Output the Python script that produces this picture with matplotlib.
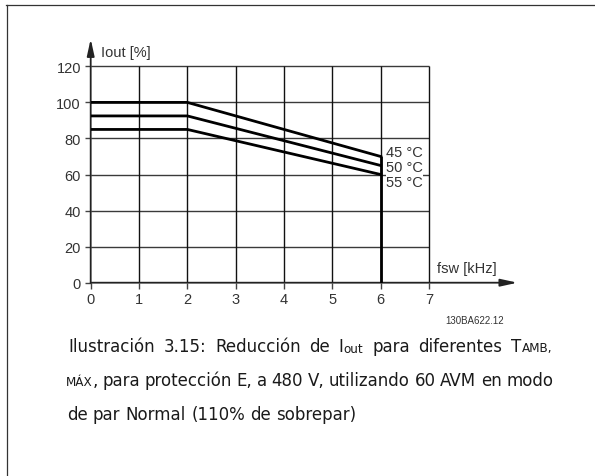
import matplotlib
matplotlib.use("Agg")
import matplotlib.pyplot as plt
from matplotlib.lines import Line2D

# derating curves
fsw_khz = [0, 2, 6]
iout_45 = [100, 100, 70]
iout_50 = [92.5, 92.5, 65]
iout_55 = [85, 85, 60]
temp_labels = ["45 °C", "50 °C", "55 °C"]

x_ticks = [0, 1, 2, 3, 4, 5, 6, 7]
y_ticks = [0, 20, 40, 60, 80, 100, 120]

W, H = 595, 477
fig = plt.figure(figsize=(W / 100, H / 100), dpi=100)
fig.patch.set_facecolor("white")

def fx(x):
    return x / W

def fy(y):
    return 1 - y / H

# axes: x=0 at px 90.7, 48.33 px per kHz; y=0 at px 283.7, 1.803 px per %
x0_px, y0_px = 90.7, 283.7
sx, sy = 48.33, 1.803
xmax, ymax = 8.9, 136.0
ax = fig.add_axes([fx(x0_px), fy(y0_px), xmax * sx / W, ymax * sy / H])
ax.set_xlim(0, xmax)
ax.set_ylim(0, ymax)
for s in ax.spines.values():
    s.set_visible(False)
ax.patch.set_visible(False)

txt_col = "#333333"
ax.set_xticks(x_ticks)
ax.set_yticks(y_ticks)
ax.tick_params(direction="out", length=4, width=1.0, color="#444444",
               labelsize=10.5, labelcolor=txt_col, pad=3)
for lab in ax.get_xticklabels() + ax.get_yticklabels():
    lab.set_family("Liberation Sans")

# grid limited to the 0..7 / 0..120 box
ax.hlines(y_ticks[1:], 0, x_ticks[-1], color="#3a3a3a", lw=1.0, zorder=1)
ax.vlines(x_ticks[1:], 0, y_ticks[-1], color="#111111", lw=1.0, zorder=1)

# axis arrows
for tip in [(0, 135.2), (8.83, 0)]:
    ax.annotate("", xy=tip, xytext=(0, 0),
                arrowprops=dict(arrowstyle="-|>,head_length=1.0,head_width=0.22",
                                lw=1.3, color="#222222", mutation_scale=10,
                                shrinkA=0, shrinkB=0),
                annotation_clip=False)

# curves
for ys in (iout_45, iout_50, iout_55):
    ax.plot(fsw_khz, ys, color="black", lw=2.0, solid_joinstyle="miter", zorder=3)
ax.vlines(fsw_khz[-1], 0, iout_45[-1], color="black", lw=2.0, zorder=3)

label_y = [72.3, 64.0, 56.0]
for lab, yy in zip(temp_labels, label_y):
    ax.text(6.11, yy, lab, fontsize=10.5, family="Liberation Sans", color=txt_col,
            va="center", ha="left", zorder=4,
            bbox=dict(facecolor="white", edgecolor="none", pad=0.3))

fig.text(fx(100.7), fy(52.7), "Iout [%]", fontsize=10.5, family="Liberation Sans",
         color=txt_col, va="center", ha="left")
fig.text(fx(437), fy(269), "fsw [kHz]", fontsize=10.5, family="Liberation Sans",
         color=txt_col, va="center", ha="left")
fig.text(fx(474.5), fy(321), "130BA622.12", fontsize=7, family="Liberation Sans",
         color=txt_col, va="center", ha="center")

# page frame
fig.add_artist(Line2D([fx(6.5), fx(6.5)], [fy(6), fy(477)], color="#333333", lw=0.9))
fig.add_artist(Line2D([fx(6), fx(595)], [fy(6), fy(6)], color="#333333", lw=0.9))

# caption, drawn word by word so the first two lines can be justified
cap_font = "DejaVu Sans"
cap_size = 12
cap_col = "#1a1a1a"
renderer = fig.canvas.get_renderer()

def text_w(s, size):
    t = fig.text(0, 0, s, fontsize=size, family=cap_font)
    w = t.get_window_extent(renderer).width
    t.remove()
    return w

space_w = text_w("a a", cap_size) - text_w("aa", cap_size)

def draw_line(words, x_left, y_base, x_right=None):
    widths = []
    for word in words:
        widths.append(sum(text_w(p, cap_size * k) for p, k in word))
    if x_right is None:
        gap = space_w
    else:
        gap = (x_right - x_left - sum(widths)) / (len(words) - 1)
    x = x_left
    for word, w in zip(words, widths):
        xx = x
        for p, k in word:
            dy = 1.5 if p == "out" else 0
            fig.text(fx(xx), fy(y_base + dy), p, fontsize=cap_size * k, family=cap_font,
                     color=cap_col, va="baseline", ha="left")
            xx += text_w(p, cap_size * k)
        x += w + gap

line1 = [[("Ilustración", 1)], [("3.15:", 1)], [("Reducción", 1)], [("de", 1)],
         [("I", 1), ("out", 0.72)], [("para", 1)], [("diferentes", 1)],
         [("T", 1), ("AMB,", 0.72)]]
line2 = [[("MÁX", 0.72), (",", 1)]] + [[(w, 1)] for w in
         "para protección E, a 480 V, utilizando 60 AVM en modo".split()]
line3 = [[(w, 1)] for w in "de par Normal (110% de sobrepar)".split()]

draw_line(line1, 68, 352, 552)
draw_line(line2, 66, 386, 553)
draw_line(line3, 67, 420)

fig.savefig("out.png", dpi=100)
